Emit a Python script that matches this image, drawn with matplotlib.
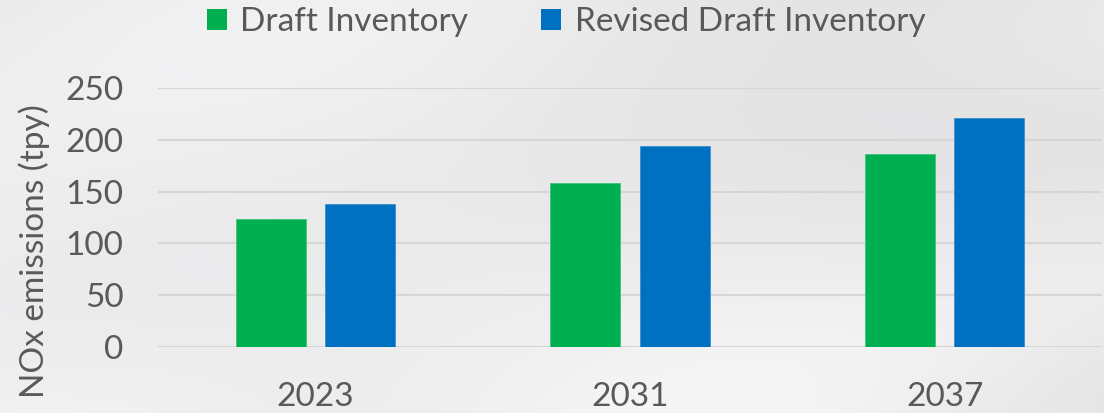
import numpy as np
import matplotlib
matplotlib.use("Agg")
import matplotlib.pyplot as plt
from matplotlib.patches import Patch

categories = ["2023", "2031", "2037"]
series_names = ["Draft Inventory", "Revised Draft Inventory"]
draft = [124, 158, 186]
revised = [138, 194, 221]
yticks = [0, 50, 100, 150, 200, 250]
colors = ["#00B050", "#0070C0"]
text_color = "#595959"

plt.rcParams['font.family'] = ['Lato', 'DejaVu Sans']

W, H = 1104, 413
fig = plt.figure(figsize=(W / 100, H / 100), dpi=100)

# soft light-grey backdrop (approximating the cloudy photo)
bg = fig.add_axes([0, 0, 1, 1], zorder=-10)
yy, xx = np.mgrid[0:1:200j, 0:1:500j]
shade = 0.90 + 0.04 * yy + 0.025 * np.sin(6 * xx + 2 * yy) * np.cos(4 * yy) + 0.02 * np.cos(9 * xx * yy)
bg.imshow(np.dstack([shade, shade, shade * 1.005]).clip(0, 1), extent=[0, 1, 0, 1],
          aspect='auto', origin='upper')
bg.axis('off')

ax = fig.add_axes([158 / W, 1 - 347 / H, (1102 - 158) / W, (347 - 88) / H])
ax.patch.set_alpha(0)

x = np.arange(len(categories))
width = 0.2225
off = 0.1422
ax.bar(x - off, draft, width, color=colors[0], edgecolor="#3fc27a", linewidth=0.6, zorder=3)
ax.bar(x + off, revised, width, color=colors[1], edgecolor="#3a8fd0", linewidth=0.6, zorder=3)

ax.set_xlim(-0.5, 2.5)
ax.set_ylim(0, 250)
ax.set_yticks(yticks)
ax.set_xticks(x)
ax.set_xticklabels(categories)
ax.yaxis.grid(True, color="#D6D6D6", linewidth=1.5, zorder=0)
ax.set_axisbelow(True)
for s in ax.spines.values():
    s.set_visible(False)
ax.tick_params(axis='both', length=0, labelsize=24, labelcolor=text_color)
ax.tick_params(axis='y', pad=25)
ax.tick_params(axis='x', pad=25)
ax.set_ylabel("NOx emissions (tpy)", fontsize=24, color=text_color)
ax.yaxis.set_label_coords(-108 / (1102 - 158), 0.5 - 34 / 259)

handles = [Patch(facecolor=c, edgecolor='none') for c in colors]
fig.legend(handles, series_names, loc='upper center', bbox_to_anchor=(566 / W, 1.055),
           ncol=2, frameon=False, fontsize=24, labelcolor=text_color,
           handlelength=0.6, handleheight=0.6, handletextpad=0.4, columnspacing=2.2)

fig.savefig("out.png", dpi=100)
